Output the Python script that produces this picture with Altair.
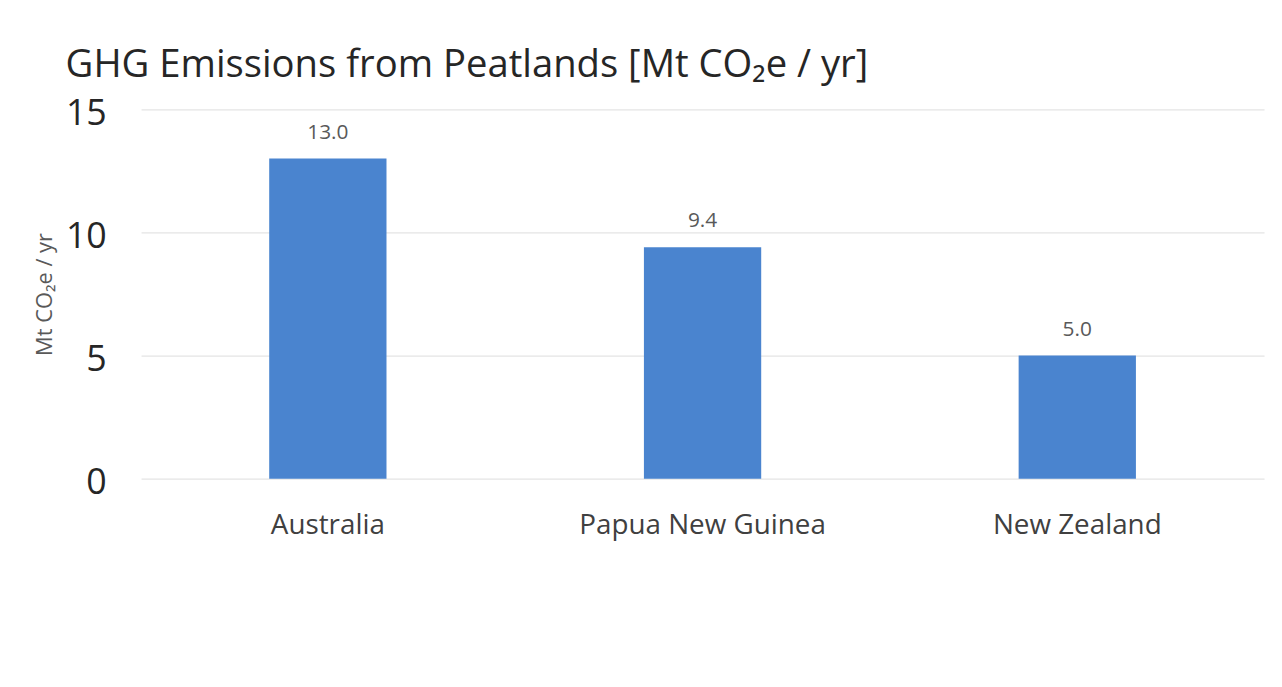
import altair as alt
import pandas as pd

countries = ["Australia", "Papua New Guinea", "New Zealand"]
emissions = [13.0, 9.4, 5.0]
y_ticks = [0, 5, 10, 15]

df = pd.DataFrame({"country": countries, "value": emissions})

FONT = "Open Sans"

base = alt.Chart(df).encode(
    x=alt.X("country:N", sort=countries,
            scale=alt.Scale(paddingInner=0.687, paddingOuter=0.342),
            axis=alt.Axis(title=None, labelAngle=0, labelFontSize=28, labelColor="#404040",
                          labelFont=FONT, labelPadding=33, labelLimit=0,
                          ticks=False, domain=False)),
    y=alt.Y("value:Q", scale=alt.Scale(domain=[0, 15], nice=False, zero=True),
            axis=alt.Axis(values=y_ticks, title="Mt CO₂e / yr", titleFontSize=22,
                          titleColor="#595959", titleFont=FONT, titleFontWeight="normal",
                          titlePadding=9, labelFontSize=36, labelColor="#262626",
                          labelFont=FONT, labelPadding=35, labelOffset=4,
                          ticks=False, domain=False,
                          gridColor="#E4E4E4", gridWidth=1.2)),
)

bars = base.mark_bar(color="#4A84CF")

labels = base.mark_text(dy=-26, fontSize=21, color="#595959", font=FONT).encode(
    text=alt.Text("value:Q", format=".1f"),
)

chart = (bars + labels).properties(
    width=1131,
    height=372,
    autosize=alt.AutoSizeParams(type="none"),
    padding={"left": 134, "top": 100, "right": 10, "bottom": 100},
    background="white",
    title=alt.TitleParams(
        "GHG Emissions from Peatlands [Mt CO₂e / yr]",
        anchor="start", frame="group", dx=-76, offset=10,
        fontSize=38.5, font=FONT, fontWeight="normal", color="#262626",
    ),
).configure_view(strokeWidth=0)

chart.save("out.html", embed_options={"renderer": "svg", "actions": False})
